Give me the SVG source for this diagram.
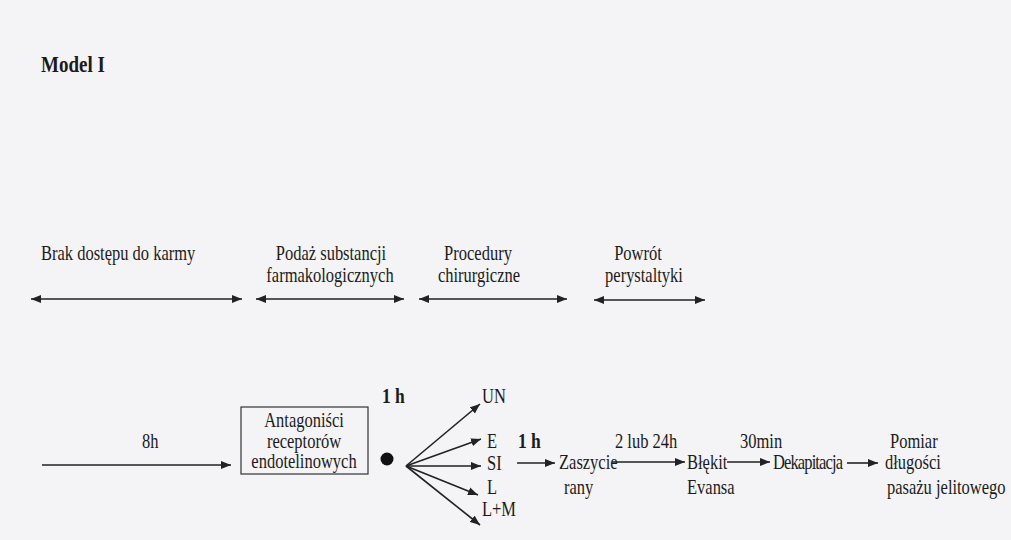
<svg xmlns="http://www.w3.org/2000/svg" width="1011" height="540" viewBox="0 0 1011 540">
<style>
text{font-family:"Liberation Serif","Times New Roman",serif;font-size:16.5px;fill:#1b1b1b;transform-box:fill-box;transform-origin:50% 78%;transform:scaleY(1.22)}
.b{font-weight:bold;font-size:17.5px}
.m{text-anchor:middle}
.c{stroke:#222;stroke-width:1.6;fill:none}
</style>
<defs>
<marker id="ah" markerUnits="userSpaceOnUse" markerWidth="11" markerHeight="9" refX="10" refY="4.5" orient="auto-start-reverse">
<path d="M0,0.5 L10,4.5 L0,8.5 z" fill="#222"/>
</marker>
</defs>
<rect width="1011" height="540" fill="#f4f3f5"/>
<g id="title"><text x="41" y="72" class="b" style="font-size:19px">Model I</text></g>

<g id="phase-brak"><text x="41" y="260">Brak dostępu do karmy</text></g>
<g id="phase-podaz"><text x="331" y="260" class="m">Podaż substancji</text><text x="330" y="282" class="m">farmakologicznych</text></g>
<g id="phase-procedury"><text x="478" y="260" class="m">Procedury</text><text x="479" y="282" class="m">chirurgiczne</text></g>
<g id="phase-powrot"><text x="638" y="260" class="m">Powrót</text><text x="644" y="282" class="m">perystaltyki</text></g>

<g id="node-antagonisci">
<rect x="241" y="407" width="127" height="67" fill="none" stroke="#333" stroke-width="1.2"/>
<text x="304" y="427" class="m">Antagoniści</text>
<text x="304" y="448" class="m">receptorów</text>
<text x="304" y="468" class="m">endotelinowych</text>
</g>
<g id="node-dot"><circle cx="387" cy="459" r="6.5" fill="#111"/></g>
<g id="label-8h"><text x="142" y="448">8h</text></g>
<g id="label-1h-a"><text x="382" y="403" class="b">1 h</text></g>
<g id="node-UN"><text x="482" y="403">UN</text></g>
<g id="node-E"><text x="487" y="448">E</text></g>
<g id="node-SI"><text x="487" y="470">SI</text></g>
<g id="node-L"><text x="487" y="494">L</text></g>
<g id="node-LM"><text x="482" y="516">L+M</text></g>
<g id="label-1h-b"><text x="518" y="448" class="b">1 h</text></g>
<g id="node-zaszycie"><text x="559" y="469">Zaszycie</text><text x="564" y="494">rany</text></g>
<g id="label-2lub24h"><text x="615" y="448">2 lub 24h</text></g>
<g id="node-blekit"><text x="687" y="469">Błękit</text><text x="687" y="494">Evansa</text></g>
<g id="label-30min"><text x="740" y="448">30min</text></g>
<g id="node-dekapitacja"><text x="773" y="469" textLength="70">Dekapitacja</text></g>
<g id="node-pomiar"><text x="890" y="448">Pomiar</text><text x="885" y="469">długości</text><text x="887" y="494">pasażu jelitowego</text></g>

<g id="connectors">
<line class="c" x1="31" y1="299" x2="242" y2="299" marker-start="url(#ah)" marker-end="url(#ah)"/>
<line class="c" x1="256" y1="299" x2="404" y2="299" marker-start="url(#ah)" marker-end="url(#ah)"/>
<line class="c" x1="419" y1="299" x2="567" y2="299" marker-start="url(#ah)" marker-end="url(#ah)"/>
<line class="c" x1="594" y1="300" x2="705" y2="300" marker-start="url(#ah)" marker-end="url(#ah)"/>
<line class="c" x1="42" y1="465" x2="231" y2="465" marker-end="url(#ah)"/>
<line class="c" x1="406" y1="466" x2="480" y2="404" marker-end="url(#ah)"/>
<line class="c" x1="406" y1="466" x2="481" y2="439" marker-end="url(#ah)"/>
<line class="c" x1="406" y1="466" x2="481" y2="466" marker-end="url(#ah)"/>
<line class="c" x1="406" y1="466" x2="478" y2="495" marker-end="url(#ah)"/>
<line class="c" x1="406" y1="466" x2="480" y2="525" marker-end="url(#ah)"/>
<line class="c" x1="517" y1="463" x2="555" y2="463" marker-end="url(#ah)"/>
<line class="c" x1="612" y1="462" x2="685" y2="462" marker-end="url(#ah)"/>
<line class="c" x1="727" y1="462" x2="770" y2="462" marker-end="url(#ah)"/>
<line class="c" x1="847" y1="463" x2="878" y2="463" marker-end="url(#ah)"/>
</g>
</svg>
